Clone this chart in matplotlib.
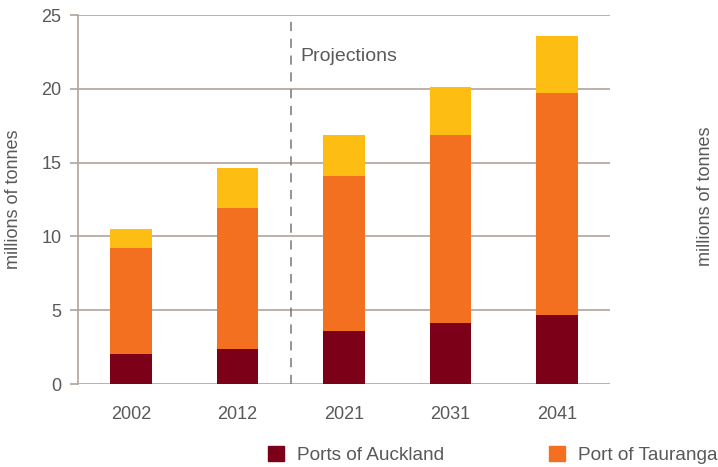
import matplotlib
matplotlib.use("Agg")
from matplotlib import pyplot as plt
from matplotlib.patches import Patch
import numpy as np

years = ["2002", "2012", "2021", "2031", "2041"]
auckland = [2.0, 2.35, 3.6, 4.15, 4.7]
tauranga = [7.25, 9.6, 10.5, 12.7, 15.0]
other = [1.25, 2.7, 2.75, 3.25, 3.85]

c_auck = "#7d0019"
c_taur = "#f37021"
c_other = "#fdbd12"
grid_c = "#afa59b"
text_c = "#58595b"

plt.rcParams["font.family"] = ["Liberation Sans", "DejaVu Sans"]
plt.rcParams["font.size"] = 13

fig = plt.figure(figsize=(7.18, 4.67), dpi=100)
ax = fig.add_axes([0.1086, 0.1777, 0.741, 0.790])

x = np.arange(len(years))
w = 0.39
ax.bar(x, auckland, w, color=c_auck, zorder=3)
ax.bar(x, tauranga, w, bottom=auckland, color=c_taur, zorder=3)
base = np.array(auckland) + np.array(tauranga)
ax.bar(x, other, w, bottom=base, color=c_other, zorder=3)

ax.set_xlim(-0.5, 4.5)
ax.set_ylim(0, 25)
ax.set_yticks([0, 5, 10, 15, 20, 25])
ax.set_xticks(x)
ax.set_xticklabels(years)
ax.yaxis.grid(True, color=grid_c, linewidth=1.2, zorder=0)
for s in ["top", "right", "bottom"]:
    ax.spines[s].set_visible(False)
ax.spines["left"].set_color(grid_c)
ax.spines["left"].set_linewidth(1.2)
ax.tick_params(axis="y", colors=grid_c, labelcolor=text_c, length=6, width=1.2, pad=6)
ax.tick_params(axis="x", length=0, labelcolor=text_c, pad=16)

# projections divider
ax.axvline(1.5, color="#777777", linestyle=(0, (6, 5)), linewidth=1.1, zorder=2)
ax.text(1.59, 22.2, "Projections", color=text_c, fontsize=14, va="center", ha="left")

ax.set_ylabel("millions of tonnes", color=text_c, labelpad=14)
fig.text(0.982, 0.58, "millions of tonnes", rotation=90, color=text_c,
         fontsize=13, ha="center", va="center")

handles = [Patch(color=c_auck, label="Ports of Auckland"),
           Patch(color=c_taur, label="Port of Tauranga")]
leg = fig.legend(handles=handles, loc="center left", bbox_to_anchor=(0.349, 0.025),
                 ncol=2, frameon=False, handlelength=0.85, handleheight=0.85,
                 handletextpad=0.68, columnspacing=5.5, fontsize=13.7)
for t in leg.get_texts():
    t.set_color(text_c)

fig.savefig("out.png", dpi=100)
